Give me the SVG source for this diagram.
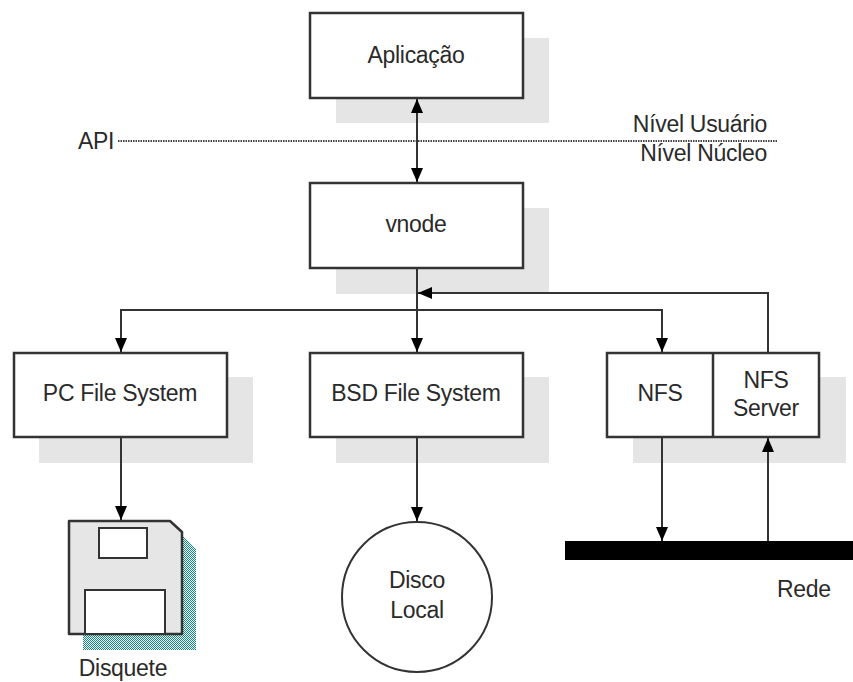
<svg xmlns="http://www.w3.org/2000/svg" width="853" height="682" viewBox="0 0 853 682">
<defs>
<style>
.shadow{fill:#e5e5e5;stroke:none}
.box{fill:#fff;stroke:#333;stroke-width:2.5}
.line{fill:none;stroke:#333;stroke-width:2}
.arr{marker-end:url(#ah)}
.t{font-family:"Liberation Sans",Arial,sans-serif;font-size:23px;fill:#2a2a2a;text-anchor:middle;letter-spacing:-0.3px}
.tl{text-anchor:start}
.te{text-anchor:end}
</style>
<marker id="ah" viewBox="0 0 14 12" refX="14" refY="6" markerWidth="14" markerHeight="12" markerUnits="userSpaceOnUse" orient="auto-start-reverse">
<path d="M0,0 L14,6 L0,12 Z" fill="#000"/>
</marker>
<pattern id="teal" width="2" height="2" patternUnits="userSpaceOnUse">
<rect width="2" height="2" fill="#e8f3f2"/>
<rect width="1" height="1" fill="#1f8580"/>
<rect x="1" y="1" width="1" height="1" fill="#1f8580"/>
</pattern>
</defs>
<rect width="853" height="682" fill="#fff"/>

<g id="api-level">
<line x1="118" y1="141" x2="778" y2="141" stroke="#444" stroke-width="2" stroke-dasharray="1.5,1"/>
<text class="t tl" x="78" y="149">API</text>
<text class="t te" x="767" y="132">Nível Usuário</text>
<text class="t te" x="767" y="161">Nível Núcleo</text>
</g>

<g id="aplicacao">
<rect class="shadow" x="336" y="38" width="213" height="85"/>
<rect class="box" x="310" y="13" width="213" height="85"/>
<text class="t" x="416" y="63">Aplicação</text>
</g>

<g id="vnode">
<rect class="shadow" x="336" y="208" width="213" height="86"/>
<rect class="box" x="310" y="183" width="213" height="85"/>
<text class="t" x="416" y="232">vnode</text>
</g>

<g id="pcfs">
<rect class="shadow" x="39" y="377" width="214" height="86"/>
<rect class="box" x="14" y="353" width="213" height="84"/>
<text class="t" x="120" y="401">PC File System</text>
</g>

<g id="bsdfs">
<rect class="shadow" x="336" y="377" width="213" height="86"/>
<rect class="box" x="310" y="353" width="213" height="84"/>
<text class="t" x="416" y="401">BSD File System</text>
</g>

<g id="nfs">
<rect class="shadow" x="633" y="377" width="213" height="86"/>
<rect class="box" x="607" y="353" width="212" height="84"/>
<line x1="713" y1="353" x2="713" y2="437" stroke="#333" stroke-width="2.5"/>
<text class="t" x="660" y="401">NFS</text>
<text class="t" x="766" y="388">NFS</text>
<text class="t" x="766" y="416">Server</text>
</g>

<g id="disquete">
<polygon points="83,537 184,537 196,549 196,650 83,650" fill="url(#teal)"/>
<polygon points="69,521 170,521 182,532 182,634 69,634" fill="#e6e6e6" stroke="#333" stroke-width="2.5" stroke-linejoin="round"/>
<rect x="99" y="528" width="48" height="30" fill="#fff" stroke="#333" stroke-width="2"/>
<rect x="85" y="590" width="80" height="44" fill="#fff" stroke="#333" stroke-width="2"/>
<text class="t" x="123" y="676">Disquete</text>
</g>

<g id="disco">
<circle cx="417" cy="597" r="75" fill="#fff" stroke="#333" stroke-width="2"/>
<text class="t" x="417" y="588">Disco</text>
<text class="t" x="417" y="618">Local</text>
</g>

<g id="rede">
<rect x="565" y="541" width="288" height="19" fill="#000"/>
<text class="t tl" x="777" y="597">Rede</text>
</g>

<g id="connectors">
<line class="line" x1="417" y1="99" x2="417" y2="182" marker-start="url(#ah)" marker-end="url(#ah)"/>
<line class="line arr" x1="417" y1="268" x2="417" y2="352"/>
<line class="line" x1="120" y1="310" x2="663" y2="310"/>
<line class="line arr" x1="121" y1="309" x2="121" y2="352"/>
<line class="line arr" x1="662" y1="309" x2="662" y2="352"/>
<polyline class="line arr" points="768,353 768,293 418,293"/>
<line class="line arr" x1="121" y1="437" x2="121" y2="520"/>
<line class="line arr" x1="417" y1="437" x2="417" y2="521"/>
<line class="line arr" x1="662" y1="437" x2="662" y2="541"/>
<line class="line arr" x1="768" y1="541" x2="768" y2="438"/>
</g>
</svg>
